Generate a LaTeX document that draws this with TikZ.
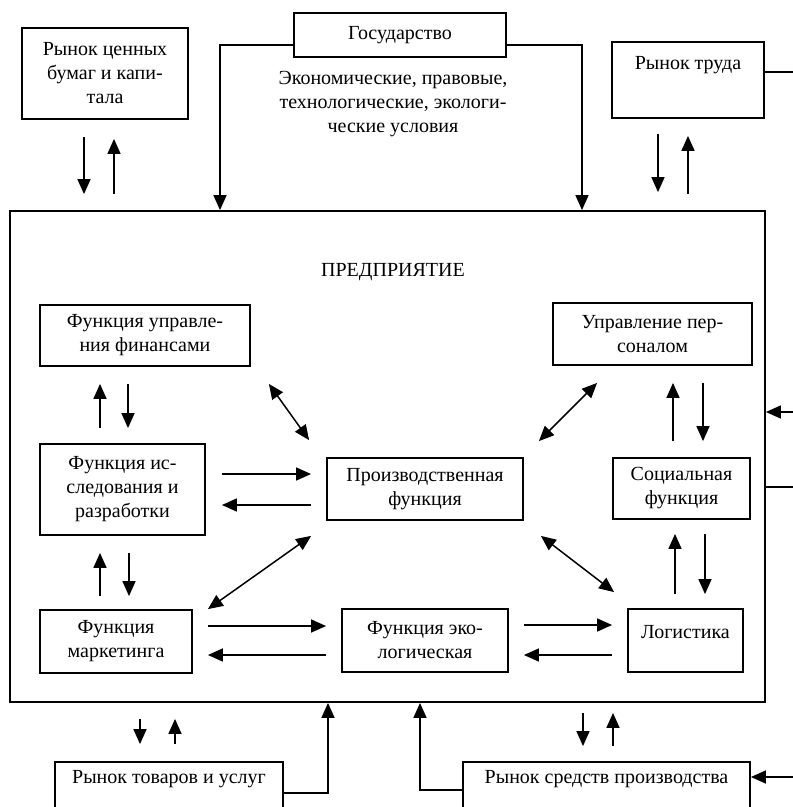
\documentclass[tikz,border=0pt]{standalone}
\usepackage{fontspec}
\setmainfont{Liberation Serif}
\usetikzlibrary{arrows.meta,calc}

\begin{document}
\begin{tikzpicture}[x=1pt,y=-1pt,
        txt/.style={align=center, font=\fontsize{20}{24}\selectfont},
        blk/.style={txt, draw, line width=1.8pt, inner sep=2pt},
        lin/.style={line width=1.5pt},
        arr/.style={lin, -{Triangle[length=15pt,width=13pt]}},
        darr/.style={lin, {Triangle[length=15pt,width=13pt]}-{Triangle[length=15pt,width=13pt]}}]
        \useasboundingbox (0,0) rectangle (793,807);
        \clip (0,0) rectangle (793,807);

        % markets and state around the firm
        \node[blk, minimum width=166pt, minimum height=91pt] (cb) at (105,73.5) {Рынок ценных\\бумаг и капи-\\тала};
        \node[blk, minimum width=212pt, minimum height=44pt] (gov) at (400,35) {Государство};
        \node[blk, minimum width=152pt, minimum height=76pt, text depth=35pt] (labor) at (688,80) {Рынок труда};
        \node[txt] (cond) at (393,104) {Экономические, правовые,\\технологические, экологи-\\ческие условия};
        \node[blk, minimum width=228pt, minimum height=68pt, text depth=39pt] (tov) at (169,796) {Рынок товаров и услуг};
        \node[blk, minimum width=287pt, minimum height=68pt, text depth=39pt] (mp) at (606.5,796) {Рынок средств производства};

        % the firm
        \node[draw, line width=1.8pt, minimum width=755pt, minimum height=491pt] (firm) at (387.5,456.5) {};
        \node[txt] (title) at (393,272) {ПРЕДПРИЯТИЕ};

        \node[blk, minimum width=210pt, minimum height=61pt] (fin) at (145,335.5) {Функция управле-\\ния финансами};
        \node[blk, minimum width=165pt, minimum height=91pt] (issl) at (122.5,489.5) {Функция ис-\\следования и\\разработки};
        \node[blk, minimum width=152pt, minimum height=63pt] (mark) at (116,641.5) {Функция\\маркетинга};
        \node[blk, minimum width=196pt, minimum height=62pt] (prod) at (425,489) {Производственная\\функция};
        \node[blk, minimum width=166pt, minimum height=63pt] (eco) at (425,640.5) {Функция эко-\\логическая};
        \node[blk, minimum width=199pt, minimum height=62pt] (pers) at (652.5,334) {Управление пер-\\соналом};
        \node[blk, minimum width=137pt, minimum height=61pt] (soc) at (681.5,488.5) {Социальная\\функция};
        \node[blk, minimum width=115pt, minimum height=63pt, text depth=18pt] (log) at (685.5,640.5) {Логистика};

        % state conditions
        \draw[arr] (gov.west |- 0,45) -| (firm.north -| 220,0);
        \draw[arr] (gov.east |- 0,45) -| (firm.north -| 582,0);

        % market exchanges
        \draw[arr, shorten <=17pt, shorten >=16pt] (cb.south -| 84,0) -- (firm.north -| 84,0);
        \draw[arr, shorten <=16pt, shorten >=19pt] (firm.north -| 114,0) -- (cb.south -| 114,0);
        \draw[arr, shorten <=15pt, shorten >=18pt] (labor.south -| 658,0) -- (firm.north -| 658,0);
        \draw[arr, shorten <=16pt, shorten >=17pt] (firm.north -| 688,0) -- (labor.south -| 688,0);
        \draw[arr, shorten <=16pt, shorten >=17pt] (firm.south -| 140,0) -- (tov.north -| 140,0);
        \draw[arr, shorten <=17pt, shorten >=16pt] (tov.north -| 175,0) -- (firm.south -| 175,0);
        \draw[arr, shorten <=10pt, shorten >=15pt] (firm.south -| 583,0) -- (mp.north -| 583,0);
        \draw[arr, shorten <=15pt, shorten >=10pt] (mp.north -| 613,0) -- (firm.south -| 613,0);
        \draw[arr] (tov.east |- 0,793) -| (firm.south -| 328,0);
        \draw[arr] (mp.west |- 0,790) -| (firm.south -| 420,0);

        % lines leaving the picture on the right
        \coordinate (labOut) at (793,72);
        \draw[lin] (labor.east |- labOut) -- (labOut);
        \coordinate (firmIn) at (793,412);
        \draw[arr] (firmIn) -- (firm.east |- firmIn);
        \coordinate (firmOut) at (793,487);
        \draw[lin] (firm.east |- firmOut) -- (firmOut);
        \coordinate (mpIn) at (793,777);
        \draw[arr] (mpIn) -- (mp.east |- mpIn);

        % inside the firm
        \draw[arr, shorten <=15pt, shorten >=17pt] (issl.north -| 100,0) -- (fin.south -| 100,0);
        \draw[arr, shorten <=17pt, shorten >=15pt] (fin.south -| 128,0) -- (issl.north -| 128,0);
        \draw[arr, shorten <=13pt, shorten >=17pt] (mark.north -| 100,0) -- (issl.south -| 100,0);
        \draw[arr, shorten <=17pt, shorten >=13pt] (issl.south -| 129,0) -- (mark.north -| 129,0);
        \draw[arr, shorten <=16pt, shorten >=15pt] (issl.east |- 0,474) -- (prod.west |- 0,474);
        \draw[arr, shorten <=15pt, shorten >=16pt] (prod.west |- 0,505) -- (issl.east |- 0,505);
        \draw[arr, shorten <=15pt, shorten >=15pt] (mark.east |- 0,626) -- (eco.west |- 0,626);
        \draw[arr, shorten <=15pt, shorten >=15pt] (eco.west |- 0,655) -- (mark.east |- 0,655);
        \draw[arr, shorten <=15pt, shorten >=15pt] (eco.east |- 0,625) -- (log.west |- 0,625);
        \draw[arr, shorten <=15pt, shorten >=15pt] (log.west |- 0,655) -- (eco.east |- 0,655);
        \draw[arr, shorten <=16pt, shorten >=17pt] (soc.north -| 673,0) -- (pers.south -| 673,0);
        \draw[arr, shorten <=17pt, shorten >=16pt] (pers.south -| 703,0) -- (soc.north -| 703,0);
        \draw[arr, shorten <=14pt, shorten >=14pt] (log.north -| 675,0) -- (soc.south -| 675,0);
        \draw[arr, shorten <=14pt, shorten >=14pt] (soc.south -| 705,0) -- (log.north -| 705,0);

        \draw[darr] ($(fin.south east)+(18,17)$) -- ($(prod.north west)+(-17,-17)$);
        \draw[darr] ($(pers.south west)+(45,17)$) -- ($(prod.north east)+(15,-16)$);
        \draw[darr] ($(prod.south west)+(-15,15)$) -- ($(mark.north east)+(15,0)$);
        \draw[darr] ($(prod.south east)+(17,15)$) -- ($(log.north west)+(-13,-16)$);
\end{tikzpicture}
\end{document}
